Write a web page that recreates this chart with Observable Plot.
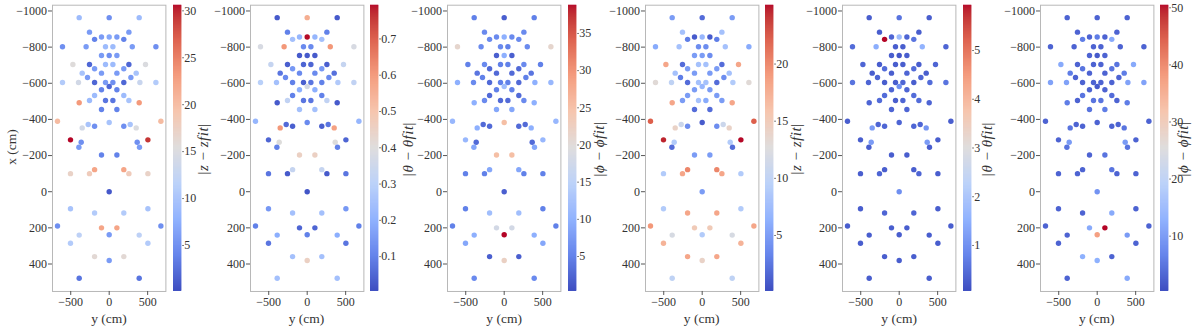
<!DOCTYPE html>
<html><head><meta charset="utf-8">
<script src="https://cdn.jsdelivr.net/npm/d3@7"></script>
<script src="https://cdn.jsdelivr.net/npm/@observablehq/plot@0.6"></script>
<style>
body{margin:0;background:#fff;}
#chart{position:relative;width:1200px;height:332px;overflow:hidden;font-family:'Liberation Serif',serif;color:#333;}
#chart svg text{font-family:'Liberation Serif',serif;}
.lab{position:absolute;white-space:nowrap;font-size:13.5px;line-height:1;}
.cbl{position:absolute;white-space:nowrap;font-size:15px;line-height:1;letter-spacing:0.5px;}
</style></head><body><div id="chart"></div>
<script>
// detector positions (same in every panel): horizontal "y (cm)" and vertical "x (cm)"
const detY = [-390,0,390, -256,256, -190,-100,0,100,190, -607,-300,-48,48,300,607, -100,0,100,
  -472,-256,-48,48,256,472, -190,190, -351,-100,100,351, -282,282,
  -607,-399,-190,-48,48,190,399,607, 0, -100,100, -190,190, -256,-48,48,256, -390,390, -100,100,
  -672,672, 0, -273,273, -190,190, -351,351, -503,503, -364,364, -394,394, -100,100, -190,190,
  -503,-256,256,503, 0, -503,503, -190,190, -672,672, -100,100, 0, -390,390, -503,503, -190,190, 0, -390,390];
const detX = [-963,-963,-963, -883,-883, -843,-856,-856,-856,-843, -802,-802,-802,-802,-802,-802, -754,-754,-754,
  -704,-704,-704,-704,-704,-704, -680,-680, -656,-656,-656,-656, -632,-632,
  -604,-604,-604,-604,-604,-604,-604,-604, -582, -564,-564, -532,-532, -505,-505,-505,-505, -492,-492, -455,-455,
  -390,-390, -383, -372,-372, -362,-362, -353,-353, -287,-287, -274,-274, -246,-246, -203,-203, -122,-122,
  -100,-100,-100,-100, 0, 94,94, 118,118, 190,190, 200,200, 238, 240,240, 285,285, 359,359, 381, 479,479];

// panel 1: |z - zfit|
const dz1 = [9,5,9, 6,6, 4,6,7,6,4, 5,6,9,9,6,5, 6,5,6, 15.5,2,9,9,2,15, 6,6, 10,6,6,10, 6,6,
  11,14,2,6,5,2,13,11, 2, 4,4, 9,9, 9,3,3,10, 23,23, 4,4, 20,20, 10, 10,10, 5,5, 14,15, 30.6,29, 5,5, 6,6, 4,4, 22,22,
  17,18,18,17, 1, 10,10, 11,11, 5,5, 22,22, 6, 12,12, 11,11, 16,16, 6, 3,3];
// panel 2: |theta - theta fit|
const dth1 = [0.03,0.55,0.03, 0.1,0.1, 0.25,0.22,0.79,0.22,0.25, 0.38,0.6,0.12,0.12,0.6,0.38, 0.03,0.03,0.03,
  0.33,0.04,0.05,0.05,0.04,0.33, 0.15,0.15, 0.08,0.12,0.12,0.07, 0.12,0.12,
  0.3,0.25,0.1,0.04,0.08,0.1,0.28,0.32, 0.37, 0.2,0.2, 0.1,0.1, 0.32,0.08,0.08,0.32, 0.03,0.03, 0.25,0.25,
  0.22,0.22, 0.12, 0.06,0.08, 0.04,0.04, 0.6,0.58, 0.05,0.05, 0.4,0.4, 0.1,0.1, 0.45,0.45, 0.33,0.33,
  0.08,0.03,0.03,0.08, 0.02, 0.15,0.15, 0.25,0.25, 0.1,0.1, 0.05,0.05, 0.1, 0.2,0.2, 0.08,0.08, 0.25,0.25, 0.45, 0.25,0.25];
// panel 3: |phi - phi fit|
const dph1 = [5,2,5, 6,6, 6,6,10,6,6, 21,6,6,5,6,21, 2,10,2, 5,6,5,5,6,5, 3,3, 4,3,3,4, 5,5,
  10,6,3,5,5,3,10,11, 12, 5,5, 3,3, 6,3,3,6, 10,10, 9,9, 11,11, 25, 3,3, 3,3, 10,10, 11,11, 3,3, 9,9, 25,25, 9,9,
  5,5,5,5, 2, 5,5, 12,12, 5,5, 18,18, 38.8, 10,10, 9,9, 2,2, 22, 6,6];
// panel 4: |z - zfit|
const dz2 = [5,2,5, 8,8, 3,1,7,1,3, 6,8,4,4,8,6, 5,5,4, 18,2,8,8,2,18, 5,5, 8,5,5,8, 3,4,
  13,10,2,8,8,2,9,13, 7, 5,5, 5,5, 5,8,6,5, 18,18, 2,2, 22,22, 1, 11,11, 4,4, 14,14, 24.5,25.1, 9,9, 2,2, 5,5, 20,20,
  9,18,18,9, 5, 9,9, 18,18, 19,18, 15,15, 9, 12,12, 17,17, 18,18, 14, 10,10];
// panel 5: |theta - theta fit|
const dth2 = [0.3,0.6,0.3, 0.3,0.3, 5.93,0.4,1.8,0.4,0.6, 0.5,1.5,0.3,0.3,1.6,0.4, 0.3,0.2,0.3,
  0.4,0.3,0.3,0.3,0.3,0.4, 0.5,0.5, 0.3,0.3,0.4,0.3, 0.4,0.4,
  0.6,0.4,0.3,0.3,0.4,0.3,0.5,0.6, 1.0, 0.4,0.4, 0.5,0.5, 0.5,0.3,0.4,0.5, 0.4,0.4, 0.4,0.4,
  0.3,0.3, 0.4, 0.4,0.4, 0.4,0.4, 1.2,1.1, 0.3,0.3, 1.2,1.2, 0.3,0.3, 0.3,0.3, 0.3,0.3,
  0.3,0.4,0.4,0.3, 1.0, 0.3,0.3, 0.4,0.4, 0.3,0.3, 0.3,0.3, 0.3, 0.3,0.3, 0.3,0.3, 0.3,0.3, 0.3, 0.3,0.3];
// panel 6: |phi - phi fit|
const dph2 = [3,3,3, 3,3, 6,3,6,3,12, 3,3,3,3,3,3, 3,2,3, 12,3,3,3,5,12, 5,5, 6,3,3,6, 3,3,
  11,11,3,3,3,3,11,11, 2, 3,3, 5,4, 3,5,5,3, 6,6, 5,6, 3,3, 3, 3,3, 3,3, 5,5, 3,3, 10,10, 5,5, 3,5, 3,5,
  3,3,3,3, 9, 3,3, 3,12, 3,3, 12,50.5, 37, 3,10, 3,3, 13,3, 13, 3,12];

// colour-bar ranges and ticks
const range1 = [0.1, 30.6], range2 = [0.004, 0.793], range3 = [0.3, 38.8];
const range4 = [0.1, 25.15], range5 = [0.056, 5.93], range6 = [0.31, 50.46];
const cbTicks1 = [5,10,15,20,25,30], cbTicks2 = [0.1,0.2,0.3,0.4,0.5,0.6,0.7], cbTicks3 = [5,10,15,20,25,30,35];
const cbTicks4 = [5,10,15,20], cbTicks5 = [1,2,3,4,5], cbTicks6 = [10,20,30,40,50];
const cbLabels = ["|<i>z</i> − <i>zfit</i>|", "|<i>θ</i> − <i>θfit</i>|", "|<i>ϕ</i> − <i>ϕfit</i>|",
                  "|<i>z</i> − <i>zfit</i>|", "|<i>θ</i> − <i>θfit</i>|", "|<i>ϕ</i> − <i>ϕfit</i>|"];
// axis ticks / domains
const xTicks = [-500, 0, 500];
const yTicks = [-1000, -800, -600, -400, -200, 0, 200, 400];
const xDomain = [-737, 737];
const yDomain = [-1032, 552];

const coolwarm = d3.piecewise(d3.interpolateLab,
  ["#3b4cc0","#6282ea","#8db0fe","#b9d0f9","#dddcdc","#f5c4ac","#f49a7b","#dd5f4b","#b40426"]);
const fmt = (d) => (d < 0 ? "\u2212" : "") + String(Math.abs(d));

const panels = [
  {values: dz1, range: range1, ticks: cbTicks1},
  {values: dth1, range: range2, ticks: cbTicks2},
  {values: dph1, range: range3, ticks: cbTicks3},
  {values: dz2, range: range4, ticks: cbTicks4},
  {values: dth2, range: range5, ticks: cbTicks5},
  {values: dph2, range: range6, ticks: cbTicks6}
];

// layout (pixels)
const FL0 = 52.3, STEP = 197.54, FW = 113.4, FT = 4.7, FB = 291, H = 332;
const ML = 48, MR = 1, CBOFF = 120.2, CBW = 8.3, CBR = 40;
const cbLabelOff = [150.6, 158, 152, 151.5, 144.8, 143];
const chart = document.getElementById("chart");
const FONT = "'Liberation Serif', serif";
const baseStyle = {fontFamily: FONT, fontSize: "12px", color: "#333", background: "transparent", overflow: "visible"};

function place(el, left) {
  el.style.position = "absolute";
  el.style.left = left + "px";
  el.style.top = "0px";
  chart.appendChild(el);
}
function addLabel(html, cls, cx, cy, rot) {
  const d = document.createElement("div");
  d.className = cls;
  d.innerHTML = html;
  d.style.left = cx + "px";
  d.style.top = cy + "px";
  d.style.transform = "translate(-50%,-50%)" + (rot ? " rotate(-90deg)" : "");
  chart.appendChild(d);
}

panels.forEach((p, i) => {
  const fl = FL0 + STEP * i;
  const rows = detY.map((y, k) => ({y, x: detX[k], v: p.values[k]}));
  const color = {type: "linear", domain: p.range, interpolate: coolwarm, clamp: true};

  const sc = Plot.plot({
    width: ML + FW + MR, height: H,
    marginLeft: ML, marginRight: MR, marginTop: FT, marginBottom: H - FB,
    style: baseStyle,
    x: {domain: xDomain},
    y: {domain: yDomain, reverse: true},
    color,
    marks: [
      Plot.frame({stroke: "#b8b8b8", strokeWidth: 1}),
      Plot.axisY({ticks: yTicks, tickFormat: fmt, tickSize: 4, tickPadding: 1.5, label: null, stroke: "#555", fontSize: 12, fontFamily: FONT}),
      Plot.axisX({ticks: xTicks, tickFormat: fmt, tickSize: 4, tickPadding: 2, label: null, stroke: "#555", fontSize: 12, fontFamily: FONT}),
      Plot.dot(rows, {x: "y", y: "x", r: 2.7, fill: "v"})
    ]
  });
  place(sc, fl - ML);

  const [lo, hi] = p.range, n = 286, st = (hi - lo) / n;
  const steps = d3.range(n).map(j => ({a: lo + st * j, b: Math.min(hi, lo + st * (j + 1.6)), m: lo + st * (j + 0.5)}));
  const cb = Plot.plot({
    width: CBW + CBR, height: H,
    marginLeft: 0, marginRight: CBR, marginTop: FT, marginBottom: H - FB,
    style: baseStyle,
    y: {domain: p.range},
    color,
    marks: [
      Plot.rect(steps, {y1: "a", y2: "b", fill: "m"}),
      Plot.axisY({anchor: "right", ticks: p.ticks, tickFormat: fmt, tickSize: 1.5, tickPadding: 1, label: null, stroke: "#555", fontSize: 12, fontFamily: FONT})
    ]
  });
  place(cb, fl + CBOFF);

  addLabel("y (cm)", "lab", fl + FW / 2, 319, false);
  addLabel(cbLabels[i], "cbl", fl + cbLabelOff[i], 149, true);
});
addLabel("x (cm)", "lab", 11.7, 147, true);
</script></body></html>
